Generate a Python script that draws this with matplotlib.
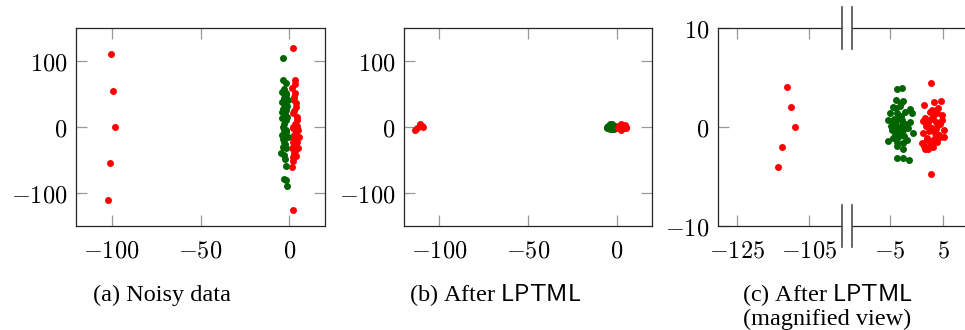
import matplotlib
matplotlib.use('Agg')
import matplotlib.pyplot as plt
from matplotlib.lines import Line2D

plt.rcParams['mathtext.fontset'] = 'cm'

# ---- data: (a) noisy data ----
green_a_x = [-3.4, -3.8, -2.2, -4.1, -1.9, -2.8, -0.9, -3.8, -1.9, -4.1, -2.2, -3.8,
             -1.9, -4.1, -0.9, -2.8, -3.8, -1.9, -4.7, -2.8, -2.2, -2.8, -1.9, -1.5,
             -3.0, -2.5, -3.3, -2.0, -3.5, -2.4, -3.0, -1.6, -3.9, -2.6, -3.2, -1.4,
             -4.4, -2.0]
green_a_y = [104.5, 71, 67, 53.5, 48.5, 43.5, 41, 28, 26, 13, 10.6, 0.5,
             -4.5, -12, -14.7, -22, -30, -32, -39, -42, -59, -79, -81, -90,
             35, 20, 5, -8, -18, -26, 58, 15, 38, -48, -5, 32,
             22, 52]
red_a_x = [1.9, 3.4, 1.5, 3.4, 2.8, 3.8, 1.9, 4.1, 2.2, 4.7, 2.8, 5.2,
           1.9, 3.8, 1.5, 4.7, 2.8, 1.9, 1.5, 2.2, 3.0, 2.5, 3.6, 2.3,
           4.4, 3.1, 2.0, 3.9, 2.6, 4.3, 3.2, 2.1, 4.0, 3.5]
red_a_y = [119, 71, 58.6, 51, 41, 30.8, 20.7, 10.6, -2, -4.5, -12, -14.7,
           -22, -27, -32, -32, -40, -46, -60, -126, 65, 45, 36, 25,
           15, 5, 0, -8, -18, -22, -36, -52, 2, -44]
outl_a_x = [-100.2, -99.0, -98.0, -101.0, -102.0]
outl_a_y = [110, 55, 0, -55, -110]

# ---- data: (b)/(c) after LPTML ----
green_c_x = [-3.6, -2.8, -3.9, -2.5, -4.4, -3.1, -1.2, -0.9, -5.0, -2.2, -3.7, -5.3,
             -2.8, -1.2, -4.4, -3.4, -4.7, -2.5, -0.6, -4.1, -3.1, -5.3, -1.8, -3.7,
             -2.5, -3.7, -2.5, -1.5, -3.3, -4.0, -2.9, -3.5, -4.2, -2.7, -3.8, -3.2,
             -4.5, -2.1, -3.0, -3.6, -2.4, -4.9, -1.6, -3.9, -2.6]
green_c_y = [3.8, 3.9, 2.7, 2.6, 2.05, 2.1, 1.8, 1.4, 1.4, 1.5, 1.4, 0.7,
             0.7, 0.5, 0.4, 0.0, -0.3, -0.3, -0.6, -0.8, -0.6, -1.4, -1.3, -1.5,
             -2.2, -3.1, -3.1, -3.3, 0.9, -0.2, 1.1, -1.0, 0.8, 0.2, 1.9, -0.5,
             -1.1, 0.3, 2.4, -1.9, -0.9, 0.1, -0.1, 0.6, -1.6]
red_c_x = [2.7, 1.4, 3.3, 4.6, 4.0, 2.5, 1.6, 3.2, 4.75, 2.2, 4.1, 2.9,
           5.1, 1.3, 3.5, 4.4, 1.9, 1.0, 2.9, 3.8, 2.2, 1.6, 2.7, 4.75,
           5.1, 3.0, 2.4, 3.6, 1.8, 4.3, 2.6, 3.4, 1.2, 3.9, 2.0, 4.5,
           3.1, 2.8, 3.7, 1.5]
red_c_y = [4.4, 2.2, 2.5, 2.6, 1.9, 1.5, 0.9, 1.0, 0.7, 0.4, 0.2, -0.1,
           -0.3, -0.6, -0.6, -1.0, -1.1, -1.6, -1.5, -1.5, -2.2, -2.25, -4.7, 1.2,
           -1.0, 1.7, -0.4, 0.5, 0.1, -0.8, -1.8, -1.2, 0.6, 1.4, -1.3, 0.3,
           -2.0, 0.8, -0.2, -1.9]
outl_c_x = [-111.0, -110.0, -109.0, -112.4, -113.6]
outl_c_y = [4.0, 2.0, 0.0, -2.0, -4.0]

# ticks
ab_xticks = [-100, -50, 0]
ab_yticks = [-100, 0, 100]
c_left_xticks = [-125, -105]
c_right_xticks = [-5, 5]
c_yticks = [-10, 0, 10]

captions = ['(a) Noisy data', '(b) After $\\mathsf{LPTML}$',
            '(c) After $\\mathsf{LPTML}$\n(magnified view)']

GREEN = '#006400'
RED = '#ff0000'
W, H = 965, 330
FS = 17.5
MS = 25


def px_axes(fig, x0, x1, y0=28, y1=226):
    return fig.add_axes([x0 / W, 1 - y1 / H, (x1 - x0) / W, (y1 - y0) / H])


def lab(v):
    return '$%d$' % v if v >= 0 else '$-%d$' % -v


def style(ax, xticks, yticks):
    ax.set_xticks(xticks)
    ax.set_xticklabels([lab(v) for v in xticks])
    ax.set_yticks(yticks)
    ax.set_yticklabels([lab(v) for v in yticks])
    ax.tick_params(direction='in', length=8, width=0.9, color='0.6',
                   top=True, right=True, labelsize=FS, pad=6)
    ax.tick_params(axis='x', pad=9)
    for s in ax.spines.values():
        s.set_color('0.15')
        s.set_linewidth(0.9)


def draw(ax, gx, gy, rx, ry, ox, oy):
    ax.scatter(gx, gy, s=MS, c=GREEN, linewidths=0, zorder=3)
    ax.scatter(rx + ox, ry + oy, s=MS, c=RED, linewidths=0, zorder=4)


fig = plt.figure(figsize=(W / 100, H / 100), dpi=100)

# (a)
ax_a = px_axes(fig, 76, 325)
draw(ax_a, green_a_x, green_a_y, red_a_x, red_a_y, outl_a_x, outl_a_y)
ax_a.set_xlim(-120, 20)
ax_a.set_ylim(-150, 150)
style(ax_a, ab_xticks, ab_yticks)

# (b)
ax_b = px_axes(fig, 404, 652)
draw(ax_b, green_c_x, green_c_y, red_c_x, red_c_y, outl_c_x, outl_c_y)
ax_b.set_xlim(-120, 20)
ax_b.set_ylim(-150, 150)
style(ax_b, ab_xticks, ab_yticks)

# (c) broken x axis
ax_cl = px_axes(fig, 718, 842)
draw(ax_cl, green_c_x, green_c_y, red_c_x, red_c_y, outl_c_x, outl_c_y)
ax_cl.set_xlim(-130.3, -95.8)
ax_cl.set_ylim(-10, 10)
style(ax_cl, c_left_xticks, c_yticks)
ax_cl.spines['right'].set_visible(False)
ax_cl.tick_params(axis='y', right=False)

ax_cr = px_axes(fig, 852, 979)
draw(ax_cr, green_c_x, green_c_y, red_c_x, red_c_y, outl_c_x, outl_c_y)
ax_cr.set_xlim(-12.17, 11.8)
ax_cr.set_ylim(-10, 10)
style(ax_cr, c_right_xticks, c_yticks)
ax_cr.spines['left'].set_visible(False)
ax_cr.spines['right'].set_visible(False)
ax_cr.tick_params(axis='y', left=False, right=False, labelleft=False)

# break marks
for bx in (842, 852):
    for ya, yb in ((7, 49), (205, 247)):
        fig.add_artist(Line2D([bx / W, bx / W], [1 - ya / H, 1 - yb / H],
                              transform=fig.transFigure, color='0.3', lw=1.2))

# captions
fig.text(162 / W, 1 - 295 / H, captions[0], ha='center', va='center',
         family='Liberation Serif', size=FS)
fig.text(495 / W, 1 - 295 / H, captions[1], ha='center', va='center',
         family='Liberation Serif', size=FS)
fig.text(827 / W, 1 - 306 / H, captions[2], ha='center', va='center',
         family='Liberation Serif', size=FS, linespacing=1.0)

fig.savefig('out.png', dpi=100)
plt.close(fig)
